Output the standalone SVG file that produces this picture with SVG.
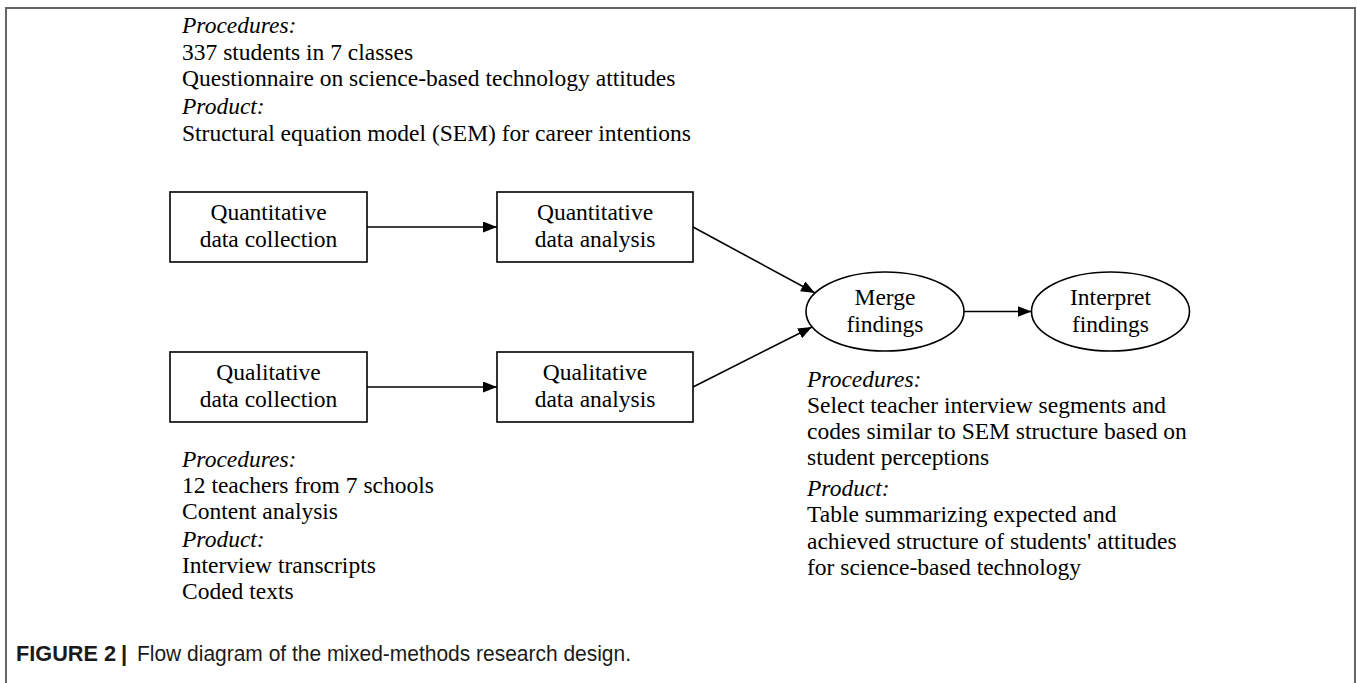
<svg xmlns="http://www.w3.org/2000/svg" width="1357" height="683" viewBox="0 0 1357 683">
<style>
.t{font-family:"Liberation Serif","Times New Roman",serif;font-size:23.5px;fill:#000}
.i{font-style:italic}
.c{text-anchor:middle}
.box{fill:#fff;stroke:#000;stroke-width:1.6}
.edge{fill:none;stroke:#000;stroke-width:1.6}
.cap{font-family:"Liberation Sans Narrow","Liberation Sans",Arial,sans-serif;font-size:22px;fill:#1a1a1a}
</style>
<defs>
<marker id="ah" markerUnits="userSpaceOnUse" markerWidth="15" markerHeight="12" refX="14" refY="5.5" orient="auto">
<path d="M0,0 L14,5.5 L0,11 Z" fill="#000"/>
</marker>
</defs>
<rect width="1357" height="683" fill="#fff"/>
<path d="M6,690 V8 H1355 V690" fill="none" stroke="#666" stroke-width="2"/>

<g id="top-notes">
<text class="t i" x="182" y="33">Procedures:</text>
<text class="t" x="182" y="59.5">337 students in 7 classes</text>
<text class="t" x="182" y="86">Questionnaire on science-based technology attitudes</text>
<text class="t i" x="182" y="114">Product:</text>
<text class="t" x="182" y="140.5">Structural equation model (SEM) for career intentions</text>
</g>

<g id="n-quant-collect">
<rect class="box" x="170" y="192" width="197" height="70"/>
<text class="t c" x="268.5" y="220">Quantitative</text>
<text class="t c" x="268.5" y="247">data collection</text>
</g>
<g id="n-quant-analysis">
<rect class="box" x="497" y="192" width="196" height="70"/>
<text class="t c" x="595" y="220">Quantitative</text>
<text class="t c" x="595" y="247">data analysis</text>
</g>
<g id="n-qual-collect">
<rect class="box" x="170" y="352" width="197" height="70"/>
<text class="t c" x="268.5" y="380">Qualitative</text>
<text class="t c" x="268.5" y="407">data collection</text>
</g>
<g id="n-qual-analysis">
<rect class="box" x="497" y="352" width="196" height="70"/>
<text class="t c" x="595" y="380">Qualitative</text>
<text class="t c" x="595" y="407">data analysis</text>
</g>
<g id="n-merge">
<ellipse class="box" cx="885" cy="311.5" rx="79" ry="39.5"/>
<text class="t c" x="885" y="304.5">Merge</text>
<text class="t c" x="885" y="331.5">findings</text>
</g>
<g id="n-interpret">
<ellipse class="box" cx="1110.5" cy="311.5" rx="79" ry="39.5"/>
<text class="t c" x="1110.5" y="304.5">Interpret</text>
<text class="t c" x="1110.5" y="331.5">findings</text>
</g>

<g id="connectors">
<line class="edge" x1="367" y1="227" x2="497" y2="227" marker-end="url(#ah)"/>
<line class="edge" x1="367" y1="387" x2="497" y2="387" marker-end="url(#ah)"/>
<line class="edge" x1="693" y1="227" x2="815" y2="293" marker-end="url(#ah)"/>
<line class="edge" x1="693" y1="387" x2="812" y2="327" marker-end="url(#ah)"/>
<line class="edge" x1="964" y1="311.5" x2="1031.5" y2="311.5" marker-end="url(#ah)"/>
</g>

<g id="bottom-left-notes">
<text class="t i" x="182" y="467">Procedures:</text>
<text class="t" x="182" y="493">12 teachers from 7 schools</text>
<text class="t" x="182" y="519">Content analysis</text>
<text class="t i" x="182" y="547">Product:</text>
<text class="t" x="182" y="573">Interview transcripts</text>
<text class="t" x="182" y="599">Coded texts</text>
</g>

<g id="right-notes">
<text class="t i" x="807" y="387">Procedures:</text>
<text class="t" x="807" y="413">Select teacher interview segments and</text>
<text class="t" x="807" y="439">codes similar to SEM structure based on</text>
<text class="t" x="807" y="465">student perceptions</text>
<text class="t i" x="807" y="496">Product:</text>
<text class="t" x="807" y="522">Table summarizing expected and</text>
<text class="t" x="807" y="549">achieved structure of students' attitudes</text>
<text class="t" x="807" y="575">for science-based technology</text>
</g>

<g id="caption">
<text class="cap" x="16" y="661" font-weight="bold" textLength="100" lengthAdjust="spacingAndGlyphs">FIGURE 2</text>
<text class="cap" x="121" y="661" font-weight="bold">|</text>
<text class="cap" x="137" y="661" textLength="494" lengthAdjust="spacingAndGlyphs">Flow diagram of the mixed-methods research design.</text>
</g>
</svg>
